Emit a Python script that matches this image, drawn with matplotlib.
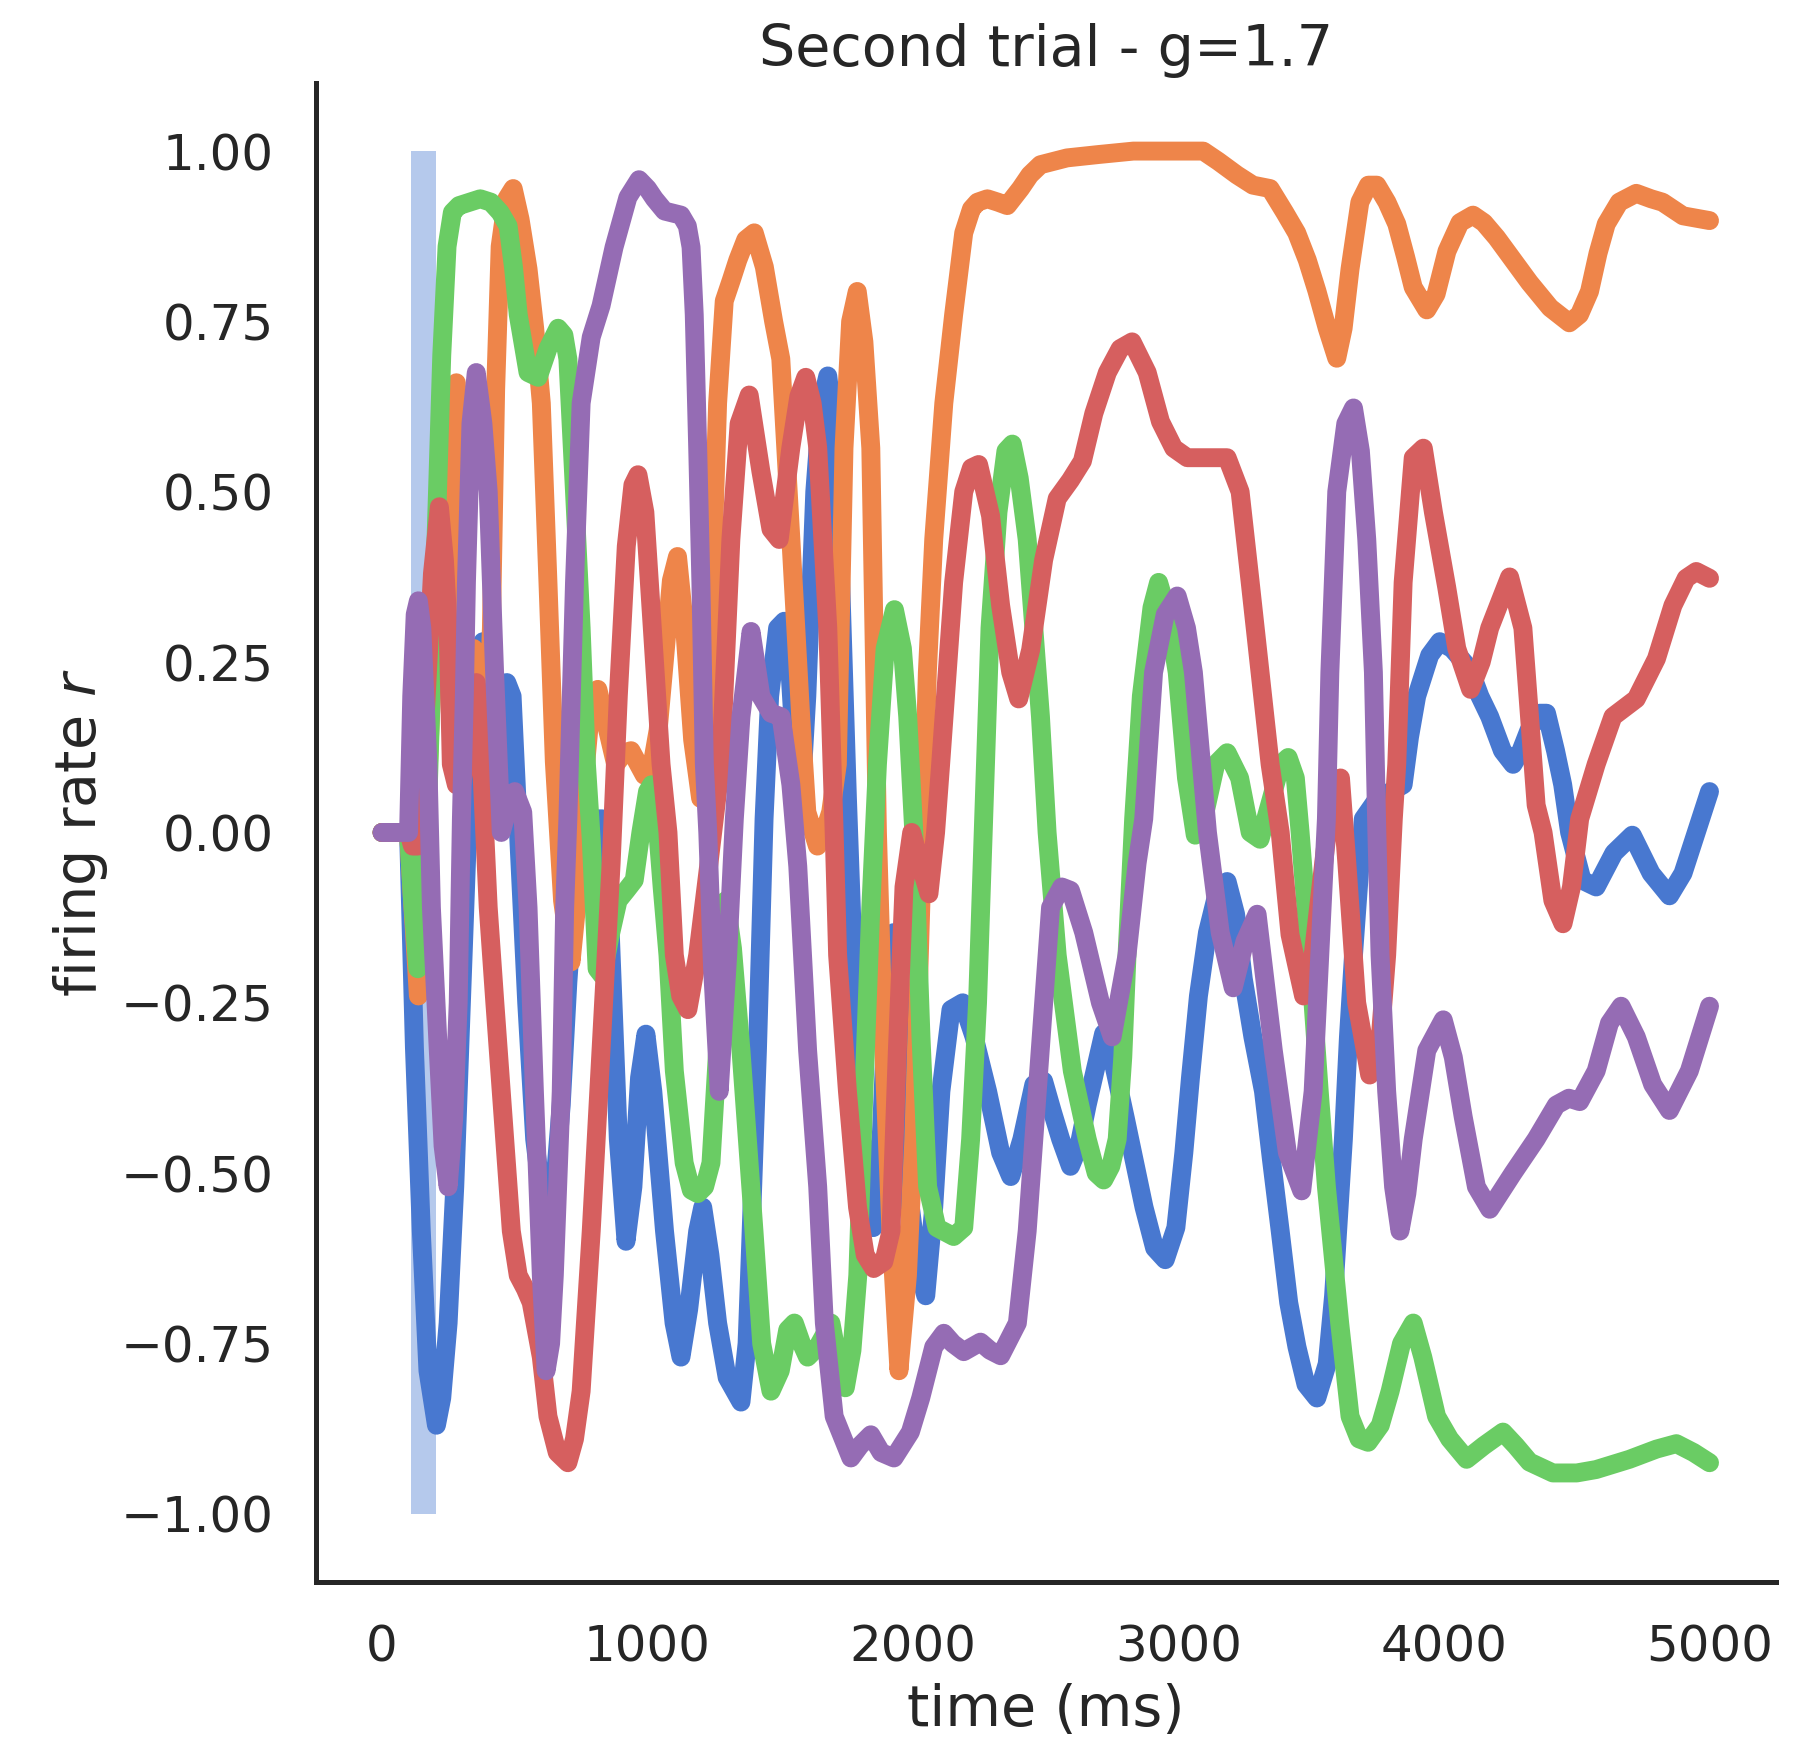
import numpy as np
import matplotlib
matplotlib.use("Agg")
import matplotlib.pyplot as plt
from matplotlib.ticker import MultipleLocator

# ===== data (time in ms, firing rate r) =====
pulse_start, pulse_end = 110, 205

blue_t = [0, 100, 122, 148, 173, 205, 225, 249, 274, 299, 324, 350, 380, 410, 440, 470, 490, 514, 545, 575,
          600, 626, 650, 675, 700, 725, 760, 800, 830, 860, 890, 919, 945, 970, 994, 1020, 1064, 1100, 1126,
          1155, 1189, 1208, 1235, 1264, 1300, 1352, 1375, 1389, 1414, 1439, 1460, 1490, 1515, 1530, 1550,
          1575, 1600, 1630, 1655, 1679, 1700, 1725, 1753, 1785, 1815, 1850, 1880, 1905, 1927, 1950, 1990,
          2020, 2048, 2078, 2105, 2143, 2187, 2230, 2281, 2330, 2368, 2410, 2455, 2492, 2525, 2556, 2593,
          2625, 2656, 2718, 2750, 2800, 2870, 2910, 2950, 2990, 3020, 3045, 3075, 3109, 3145, 3183, 3215,
          3244, 3280, 3320, 3350, 3383, 3415, 3446, 3480, 3521, 3560, 3584, 3605, 3621, 3640, 3659, 3696,
          3750, 3800, 3846, 3870, 3897, 3946, 3984, 4030, 4097, 4135, 4172, 4220, 4260, 4290, 4320, 4360,
          4386, 4420, 4447, 4473, 4520, 4573, 4640, 4709, 4780, 4849, 4900, 4950, 5000]
blue_r = [0, 0, -0.315, -0.585, -0.79, -0.87, -0.83, -0.72, -0.52, -0.25, 0.02, 0.2, 0.28, 0.2, 0.15, 0.22,
          0.2, 0.0, -0.25, -0.45, -0.53, -0.55, -0.52, -0.4, -0.22, -0.08, -0.01, 0.02, 0.02, -0.15, -0.45,
          -0.6, -0.52, -0.36, -0.296, -0.38, -0.585, -0.72, -0.77, -0.7, -0.585, -0.55, -0.62, -0.72, -0.8,
          -0.836, -0.75, -0.6, -0.32, 0.02, 0.2, 0.3, 0.31, 0.28, 0.15, 0.03, 0.2, 0.5, 0.63, 0.67, 0.6, 0.4,
          0.05, -0.3, -0.5, -0.58, -0.45, -0.22, -0.147, -0.25, -0.55, -0.64, -0.68, -0.55, -0.38, -0.26,
          -0.25, -0.3, -0.38, -0.47, -0.505, -0.45, -0.37, -0.365, -0.41, -0.45, -0.49, -0.46, -0.4, -0.295,
          -0.33, -0.42, -0.55, -0.61, -0.627, -0.58, -0.47, -0.36, -0.24, -0.147, -0.09, -0.072, -0.12,
          -0.215, -0.3, -0.38, -0.48, -0.585, -0.69, -0.755, -0.81, -0.83, -0.78, -0.68, -0.55, -0.45, -0.3,
          -0.18, 0.02, 0.05, 0.06, 0.07, 0.14, 0.2, 0.26, 0.28, 0.27, 0.24, 0.2, 0.17, 0.12, 0.1, 0.12, 0.15,
          0.175, 0.175, 0.12, 0.07, 0.0, -0.07, -0.08, -0.03, -0.004, -0.06, -0.093, -0.06, 0.0, 0.06]

orange_t = [0, 100, 115, 137, 155, 180, 210, 240, 262, 280, 290, 299, 320, 345, 370, 395, 412, 428, 445, 470,
            494, 520, 550, 575, 600, 625, 649, 680, 712, 735, 755, 788, 813, 850, 880, 912, 938, 988, 1013,
            1040, 1063, 1090, 1113, 1140, 1170, 1200, 1225, 1239, 1252, 1264, 1289, 1315, 1340, 1370, 1402,
            1440, 1475, 1502, 1520, 1540, 1577, 1600, 1640, 1665, 1690, 1715, 1740, 1765, 1790, 1815, 1841,
            1866, 1890, 1917, 1947, 1979, 2003, 2030, 2054, 2078, 2116, 2153, 2191, 2220, 2243, 2280, 2320,
            2355, 2405, 2440, 2480, 2530, 2580, 2700, 2830, 2969, 3093, 3150, 3220, 3280, 3345, 3400, 3445,
            3485, 3521, 3560, 3596, 3620, 3646, 3683, 3715, 3747, 3785, 3822, 3855, 3884, 3935, 3970, 4011,
            4060, 4109, 4150, 4198, 4260, 4322, 4400, 4472, 4510, 4548, 4580, 4611, 4660, 4724, 4780, 4823,
            4900, 5000]
orange_r = [0, 0, -0.1, -0.24, -0.1, 0.15, 0.4, 0.58, 0.64, 0.66, 0.5, 0.15, 0.1, 0.27, 0.22, 0.12, 0.3,
            0.65, 0.86, 0.93, 0.945, 0.9, 0.827, 0.74, 0.63, 0.367, 0.104, -0.1, -0.19, -0.1, 0.05, 0.19,
            0.21, 0.15, 0.1, 0.117, 0.12, 0.084, 0.09, 0.15, 0.25, 0.37, 0.405, 0.3, 0.136, 0.05, 0.15, 0.3,
            0.48, 0.63, 0.78, 0.81, 0.84, 0.87, 0.88, 0.83, 0.75, 0.695, 0.57, 0.43, 0.17, 0.03, -0.02, 0.0,
            0.03, 0.1, 0.564, 0.75, 0.794, 0.72, 0.564, 0.0, -0.32, -0.585, -0.79, -0.65, -0.45, -0.1, 0.235,
            0.43, 0.63, 0.76, 0.88, 0.915, 0.925, 0.93, 0.925, 0.92, 0.945, 0.965, 0.98, 0.985, 0.99, 0.995,
            1.0, 1.0, 1.0, 0.985, 0.965, 0.95, 0.945, 0.91, 0.88, 0.84, 0.795, 0.74, 0.696, 0.74, 0.827,
            0.925, 0.95, 0.95, 0.925, 0.893, 0.845, 0.8, 0.767, 0.79, 0.853, 0.895, 0.906, 0.895, 0.873,
            0.84, 0.807, 0.77, 0.748, 0.76, 0.794, 0.85, 0.893, 0.925, 0.938, 0.93, 0.925, 0.905, 0.898]

green_t = [0, 100, 115, 135, 150, 165, 185, 205, 225, 245, 265, 290, 330, 370, 410, 445, 475, 495, 513, 550,
           588, 625, 663, 685, 700, 725, 750, 770, 788, 810, 830, 860, 889, 920, 950, 975, 1000, 1015, 1035,
           1055, 1077, 1101, 1138, 1165, 1189, 1215, 1239, 1264, 1280, 1295, 1320, 1352, 1401, 1430, 1465,
           1500, 1528, 1553, 1580, 1603, 1641, 1691, 1720, 1745, 1770, 1792, 1815, 1841, 1866, 1895, 1930,
           1960, 1980, 2003, 2030, 2055, 2090, 2153, 2191, 2217, 2243, 2266, 2290, 2320, 2350, 2374, 2400,
           2430, 2455, 2480, 2505, 2543, 2600, 2656, 2690, 2718, 2745, 2769, 2790, 2806, 2831, 2860, 2900,
           2925, 2960, 2995, 3030, 3063, 3100, 3140, 3183, 3230, 3270, 3307, 3350, 3385, 3413, 3440, 3458,
           3494, 3530, 3557, 3607, 3646, 3680, 3714, 3760, 3797, 3840, 3884, 3920, 3972, 4021, 4085, 4150,
           4222, 4270, 4322, 4410, 4500, 4573, 4698, 4800, 4875, 4940, 5000]
green_r = [0, 0, -0.1, -0.2, -0.18, -0.05, 0.2, 0.45, 0.7, 0.86, 0.91, 0.92, 0.925, 0.93, 0.925, 0.91, 0.89,
           0.83, 0.76, 0.675, 0.668, 0.71, 0.74, 0.73, 0.695, 0.5, 0.3, 0.1, -0.01, -0.2, -0.21, -0.15, -0.1,
           -0.085, -0.07, 0.0, 0.06, 0.07, 0.02, -0.08, -0.18, -0.35, -0.485, -0.525, -0.53, -0.52, -0.485,
           -0.32, -0.14, -0.1, -0.17, -0.32, -0.585, -0.75, -0.82, -0.79, -0.73, -0.72, -0.75, -0.77, -0.755,
           -0.72, -0.78, -0.815, -0.76, -0.65, -0.38, -0.11, 0.1, 0.27, 0.327, 0.27, 0.17, 0.0, -0.3, -0.52,
           -0.58, -0.593, -0.58, -0.45, -0.25, 0.02, 0.3, 0.47, 0.56, 0.57, 0.52, 0.43, 0.3, 0.17, 0.0, -0.18,
           -0.35, -0.45, -0.5, -0.51, -0.49, -0.45, -0.33, -0.18, 0.02, 0.2, 0.33, 0.367, 0.32, 0.235, 0.08,
           -0.004, 0.03, 0.1, 0.117, 0.08, 0.0, -0.01, 0.05, 0.1, 0.11, 0.08, 0.0, -0.18, -0.38, -0.52, -0.72,
           -0.857, -0.89, -0.895, -0.87, -0.82, -0.75, -0.72, -0.77, -0.857, -0.89, -0.92, -0.9, -0.88, -0.9,
           -0.924, -0.94, -0.94, -0.935, -0.92, -0.905, -0.897, -0.91, -0.925]

red_t = [0, 100, 115, 135, 160, 190, 216, 235, 249, 261, 280, 300, 330, 355, 375, 400, 425, 449, 487, 513,
         540, 562, 600, 625, 660, 700, 725, 750, 788, 825, 863, 890, 920, 945, 964, 990, 1013, 1051, 1077,
         1101, 1125, 1152, 1189, 1230, 1276, 1314, 1345, 1383, 1427, 1465, 1496, 1540, 1570, 1596, 1620,
         1641, 1679, 1703, 1716, 1753, 1791, 1820, 1852, 1890, 1917, 1941, 1966, 1995, 2030, 2060, 2085,
         2104, 2153, 2191, 2220, 2247, 2292, 2330, 2368, 2398, 2443, 2492, 2543, 2593, 2638, 2681, 2732,
         2780, 2825, 2882, 2932, 2982, 3033, 3093, 3183, 3232, 3270, 3307, 3345, 3383, 3420, 3471, 3507,
         3560, 3610, 3634, 3671, 3720, 3760, 3784, 3809, 3822, 3846, 3884, 3922, 3960, 4010, 4048, 4100,
         4140, 4172, 4247, 4297, 4322, 4347, 4373, 4410, 4448, 4480, 4511, 4573, 4636, 4724, 4800, 4862,
         4912, 4950, 5000]
red_r = [0, 0, -0.02, -0.02, 0.15, 0.38, 0.478, 0.4, 0.3, 0.1, 0.07, 0.07, 0.15, 0.22, 0.1, -0.11, -0.25,
         -0.38, -0.585, -0.65, -0.67, -0.69, -0.77, -0.857, -0.91, -0.925, -0.89, -0.82, -0.585, -0.32,
         -0.045, 0.2, 0.42, 0.51, 0.525, 0.47, 0.33, 0.1, 0.0, -0.18, -0.24, -0.26, -0.18, -0.05, 0.1, 0.43,
         0.6, 0.642, 0.53, 0.445, 0.43, 0.565, 0.64, 0.668, 0.63, 0.565, 0.3, 0.0, -0.18, -0.38, -0.55,
         -0.62, -0.64, -0.63, -0.585, -0.32, -0.08, 0.0, -0.05, -0.09, 0.0, 0.1, 0.367, 0.5, 0.535, 0.54,
         0.465, 0.333, 0.235, 0.196, 0.268, 0.4, 0.49, 0.517, 0.545, 0.615, 0.675, 0.71, 0.72, 0.675, 0.603,
         0.564, 0.55, 0.55, 0.55, 0.5, 0.367, 0.235, 0.1, 0.0, -0.15, -0.24, -0.18, 0.0, 0.08, -0.045, -0.25,
         -0.356, -0.3, -0.18, 0.02, 0.1, 0.367, 0.55, 0.564, 0.47, 0.36, 0.27, 0.21, 0.25, 0.3, 0.375, 0.3,
         0.17, 0.04, 0.0, -0.1, -0.134, -0.08, 0.02, 0.1, 0.17, 0.196, 0.255, 0.333, 0.373, 0.383, 0.373]

purple_t = [0, 100, 112, 125, 137, 150, 173, 186, 212, 230, 249, 270, 287, 299, 310, 318, 335, 355, 380, 400,
            424, 449, 470, 500, 530, 550, 574, 600, 618, 635, 649, 675, 688, 700, 725, 750, 788, 825, 874,
            926, 968, 1000, 1026, 1064, 1126, 1150, 1164, 1176, 1189, 1201, 1214, 1227, 1245, 1270, 1302,
            1327, 1352, 1390, 1427, 1465, 1503, 1540, 1566, 1603, 1641, 1666, 1703, 1766, 1800, 1841, 1880,
            1928, 1990, 2029, 2078, 2116, 2150, 2191, 2254, 2290, 2330, 2393, 2430, 2468, 2492, 2518, 2560,
            2593, 2643, 2706, 2750, 2806, 2844, 2869, 2906, 2950, 2995, 3030, 3056, 3082, 3109, 3157, 3206,
            3250, 3296, 3357, 3410, 3464, 3507, 3532, 3557, 3570, 3596, 3630, 3659, 3685, 3709, 3734, 3747,
            3759, 3784, 3810, 3834, 3860, 3884, 3935, 3997, 4035, 4072, 4122, 4172, 4260, 4347, 4423, 4470,
            4511, 4573, 4623, 4667, 4724, 4786, 4849, 4924, 5000]
purple_r = [0, 0, 0.2, 0.32, 0.34, 0.3, 0.1, -0.11, -0.32, -0.46, -0.52, -0.42, -0.25, 0.02, 0.2, 0.367, 0.6,
            0.675, 0.6, 0.5, 0.235, 0.0, 0.03, 0.06, 0.03, -0.11, -0.38, -0.65, -0.79, -0.75, -0.65, -0.38,
            -0.11, 0.02, 0.367, 0.63, 0.727, 0.773, 0.859, 0.932, 0.958, 0.945, 0.93, 0.912, 0.906, 0.89,
            0.859, 0.76, 0.564, 0.367, 0.1, 0.0, -0.2, -0.38, -0.18, 0.02, 0.17, 0.295, 0.2, 0.175, 0.17,
            0.07, -0.05, -0.32, -0.52, -0.72, -0.857, -0.918, -0.9, -0.884, -0.91, -0.918, -0.88, -0.83,
            -0.755, -0.735, -0.75, -0.762, -0.748, -0.76, -0.768, -0.72, -0.585, -0.38, -0.25, -0.11, -0.08,
            -0.085, -0.147, -0.25, -0.3, -0.18, -0.045, 0.02, 0.235, 0.32, 0.347, 0.3, 0.235, 0.12, 0.0,
            -0.147, -0.228, -0.16, -0.12, -0.32, -0.47, -0.526, -0.38, -0.18, 0.02, 0.235, 0.5, 0.6, 0.623,
            0.56, 0.43, 0.235, 0.0, -0.18, -0.38, -0.52, -0.585, -0.53, -0.45, -0.32, -0.275, -0.33, -0.417,
            -0.52, -0.553, -0.5, -0.45, -0.4, -0.39, -0.395, -0.35, -0.28, -0.255, -0.3, -0.37, -0.408,
            -0.35, -0.255]

# seaborn "muted" colours
colors = ['#4878d0', '#ee854a', '#6acc64', '#d65f5f', '#956cb4']
series = [(blue_t, blue_r), (orange_t, orange_r), (green_t, green_r), (red_t, red_r), (purple_t, purple_r)]

text_col = '#262626'
plt.rcParams['font.family'] = 'DejaVu Sans'

fig = plt.figure(figsize=(9.07, 8.695), dpi=200)
ax = fig.add_axes([0.174, 0.0903, 0.805, 0.862])

# input pulse
ax.fill_between([pulse_start, pulse_end], -1, 1, color=colors[0], alpha=0.4, linewidth=0)

for (t, r), c in zip(series, colors):
    ax.plot(t, r, color=c, linewidth=6.8, solid_joinstyle='round', solid_capstyle='round')

ax.margins(x=0.05, y=0.05)
ax.xaxis.set_major_locator(MultipleLocator(1000))
ax.yaxis.set_major_locator(MultipleLocator(0.25))

for side in ['top', 'right']:
    ax.spines[side].set_visible(False)
for side in ['left', 'bottom']:
    ax.spines[side].set_linewidth(1.8)
    ax.spines[side].set_color(text_col)

ax.tick_params(axis='both', length=0, pad=15, labelsize=18, labelcolor=text_col)

ax.set_title('Second trial - g=1.7', fontsize=20.6, color=text_col)
ax.set_xlabel('time (ms)', fontsize=20.6, color=text_col)
ax.set_ylabel('firing rate $r$', fontsize=20.6, color=text_col)

fig.savefig('out.png', dpi=200, facecolor='white')
